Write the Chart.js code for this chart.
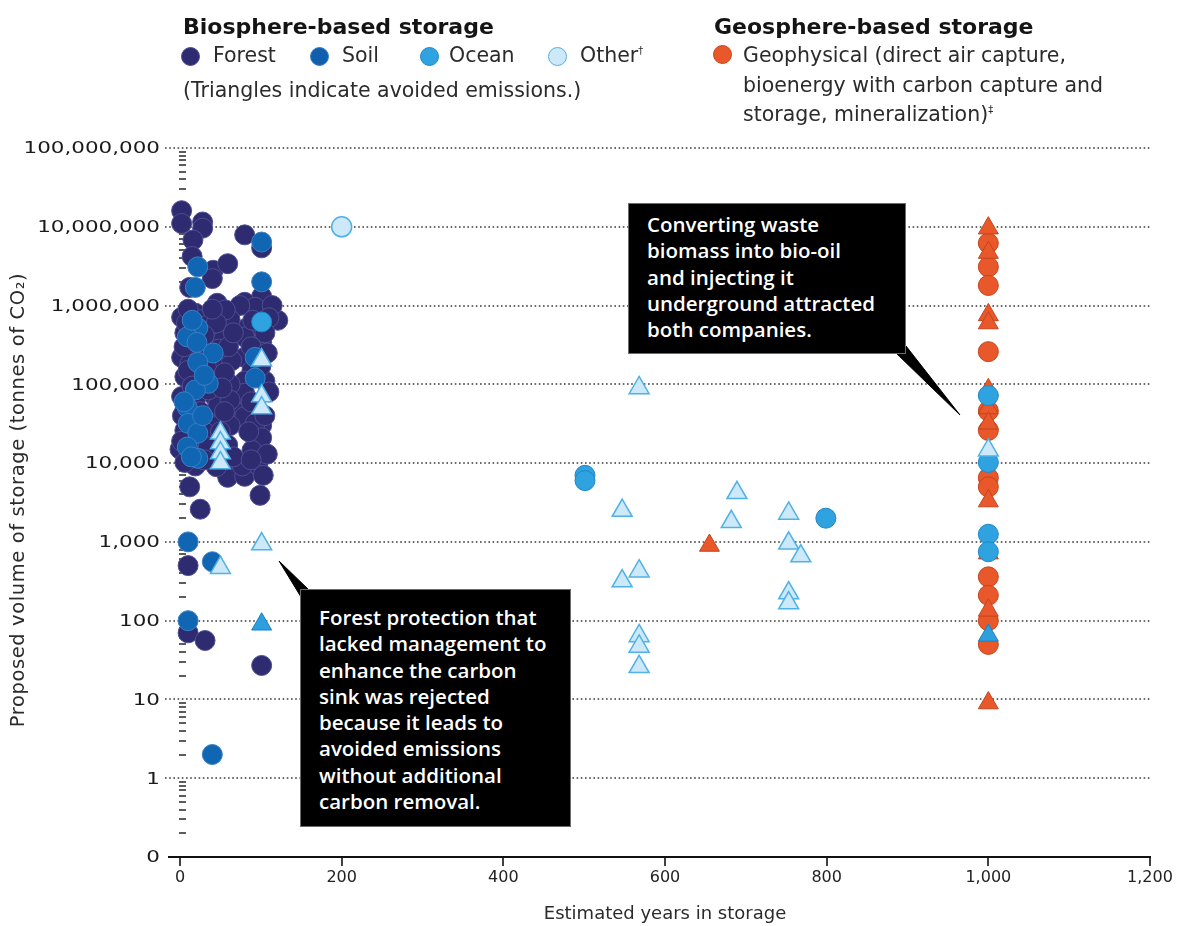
<!DOCTYPE html>
<html>
<head>
<meta charset="utf-8">
<script src="https://cdn.jsdelivr.net/npm/chart.js@4.4.1/dist/chart.umd.min.js"></script>
<style>
  html, body { margin: 0; padding: 0; background: #fff; }
  #wrap { position: relative; width: 1180px; height: 926px; overflow: hidden; background: #fff; }
  #plot { position: absolute; left: 0; top: 0; }
  .head { position: absolute; font-family: "DejaVu Sans", sans-serif; font-weight: bold; font-size: 22px; line-height: 28px; color: #141414; white-space: nowrap; }
  .lab { position: absolute; font-family: "DejaVu Sans", sans-serif; font-size: 20.5px; line-height: 29.5px; color: #2b2b2b; white-space: nowrap; }
  .lab sup { font-size: 10px; vertical-align: 8px; line-height: 0; }
  .swatch { position: absolute; width: 17px; height: 17px; border-radius: 50%; border: 1px solid; }
  .note { position: absolute; box-sizing: border-box; background: #000; color: #fff; border: 1px solid #6d6d6d;
          font-family: "Open Sans", sans-serif; font-weight: 600; font-size: 20.5px; line-height: 26.3px; padding-left: 18px; white-space: nowrap; }
  #wedges { position: absolute; left: 0; top: 0; pointer-events: none; }
</style>
</head>
<body>
<div id="wrap">
  <canvas id="plot" width="1180" height="926"></canvas>

  <div class="head" style="left:183px; top:13px;">Biosphere-based storage</div>
  <span class="swatch" style="left:181px; top:47px; background:#2e2b70; border-color:#4b4a8f;"></span>
  <div class="lab" style="left:213px; top:41px;">Forest</div>
  <span class="swatch" style="left:310px; top:47px; background:#0f5fae; border-color:#3b7cc2;"></span>
  <div class="lab" style="left:342px; top:41px;">Soil</div>
  <span class="swatch" style="left:420px; top:47px; background:#2fa3df; border-color:#1e86c8;"></span>
  <div class="lab" style="left:449px; top:41px;">Ocean</div>
  <span class="swatch" style="left:548px; top:47px; background:#cde8f8; border-color:#4fb2e6;"></span>
  <div class="lab" style="left:580px; top:41px;">Other<sup>†</sup></div>
  <div class="lab" style="left:183px; top:76px;">(Triangles indicate avoided emissions.)</div>

  <div class="head" style="left:714px; top:13px;">Geosphere-based storage</div>
  <span class="swatch" style="left:713px; top:45px; background:#e8582a; border-color:#c4441c;"></span>
  <div class="lab" style="left:743px; top:41px;">Geophysical (direct air capture,<br>bioenergy with carbon capture and<br>storage, mineralization)<sup>‡</sup></div>

  <svg id="wedges" width="1180" height="926">
    <polygon points="896,353 960,415 906,346 906,353" fill="#000" stroke="#000" stroke-width="1"/>
    <polygon points="279,561 301,597 301,590 309,590" fill="#000" stroke="#000" stroke-width="1"/>
  </svg>

  <div class="note" style="left:628px; top:203px; width:278px; height:151px; padding-top:7px;">Converting waste<br>biomass into bio-oil<br>and injecting it<br>underground attracted<br>both companies.</div>
  <div class="note" style="left:300px; top:589px; width:271px; height:238px; padding-top:14px;">Forest protection that<br>lacked management to<br>enhance the carbon<br>sink was rejected<br>because it leads to<br>avoided emissions<br>without additional<br>carbon removal.</div>
</div>

<script>
// Axis ticks
const xTicks = [0, 200, 400, 600, 800, 1000, 1200];
const xTickLabels = ['0', '200', '400', '600', '800', '1,000', '1,200'];
const yTicks = [0.1, 1, 10, 100, 1000, 1e4, 1e5, 1e6, 1e7, 1e8];
const yTickLabels = ['0', '1', '10', '100', '1,000', '10,000', '100,000', '1,000,000', '10,000,000', '100,000,000'];

// Projects: [estimated years in storage, proposed tonnes of CO2]
const forestStores = [
  [2,16e6],[2,11e6],[28,11.5e6],[28,9.6e6],[16,6.8e6],[15,4.2e6],[41,2.8e6],[59,3.4e6],[40,2.2e6],[12,1.7e6],
  [46,1.07e6],[80,7.9e6],[101,5.4e6],[101,1.3e6],[80,1.1e6],[93,950e3],[121,650e3],
  [2,710e3],[19,800e3],[35,710e3],[52,490e3],[6,450e3],[53,360e3],[2,220e3],[47,190e3],[6,125e3],[43,125e3],
  [2,70e3],[43,70e3],[6,47e3],[46,47e3],[35,32e3],[6,26e3],[0,15e3],[27,19.5e3],[56,15e3],[19,9.2e3],[56,8e3],[72,8e3],
  [47,54e3],[77,51e3],[15,21e3],[43,29e3],[59,6.6e3],[80,6.8e3],[12,5e3],[25,2.6e3],[99,3.9e3],[93,21e3],[99,16e3],
  [95,10.3e3],[101,30e3],[77,43e3],[10,500],[10,70],[31,56],[101,27],
  [84,530e3],[80,400e3],[101,340e3],[80,220e3],[89,150e3],[80,110e3],[105,110e3],[80,77e3],[96,47e3],[80,39e3],
  [93,32e3],[101,21e3],[89,14.5e3],[96,9.5e3],[77,9.2e3],[74,1.0e6],[114,1.0e6],
  [25,660e3],[62,660e3],[19,320e3],[37,270e3],[12,180e3],[25,110e3],[62,100e3],[19,63e3],[62,63e3],[2,19e3],
  [62,30e3],[59,17e3],[40,12.5e3],[6,10.2e3],[64,200e3],[56,880e3],
  [8,600e3],[30,550e3],[45,600e3],[14,380e3],[30,420e3],[48,280e3],[5,300e3],[28,230e3],[60,300e3],[10,150e3],
  [33,160e3],[55,140e3],[15,95e3],[35,85e3],[52,90e3],[3,40e3],[25,45e3],[55,45e3],[12,33e3],[30,25e3],
  [50,25e3],[15,14e3],[35,16e3],[66,12e3],[45,9e3],[30,11e3],[66,450e3],[10,900e3],[40,900e3],
  [110,700e3],[90,650e3],[105,450e3],[88,300e3],[108,250e3],[100,170e3],[110,80e3],[88,60e3],[105,40e3],
  [85,25e3],[108,13e3],[88,11e3],[103,7e3]
];
const soilStores = [
  [22,3.1e6],[19,1.7e6],[101,6.4e6],[101,2.0e6],[22,520e3],[9,400e3],[21,340e3],[41,250e3],[22,190e3],[35,103e3],
  [19,85e3],[9,51e3],[10,32e3],[22,24e3],[9,16e3],[22,11.5e3],[93,220e3],[93,120e3],[10,1000],[10,100],[40,560],[40,2],
  [15,650e3],[30,130e3],[5,60e3],[28,40e3],[14,12e3]
];
const oceanStores = [[101,620e3],[501,7e3],[501,6e3],[799,2e3],[1000,72e3],[1000,10.2e3],[1000,1.25e3],[1000,750]];
const oceanAvoided = [[101,90],[1000,65]];
const otherStores = [[200,10e6]];
const otherAvoided = [
  [50,24e3],[50,18e3],[50,13.4e3],[50,10e3],[101,203e3],[101,71e3],[101,50e3],[101,940],[50,470],
  [568,90e3],[547,2.5e3],[689,4.2e3],[682,1.8e3],[753,2.3e3],[753,960],[768,660],[568,425],[547,318],
  [753,224],[753,167],[568,64],[568,47],[568,26],[1000,14.6e3]
];
const geoStores = [
  [1000,6.2e6],[1000,3.1e6],[1000,1.8e6],[1000,260e3],[1000,46e3],[1000,26e3],[1000,6.5e3],[1000,5e3],
  [1000,360],[1000,210],[1000,100],[1000,50]
];
const geoAvoided = [
  [1000,9.6e6],[1000,4.7e6],[1000,760e3],[1000,600e3],[1000,85e3],[1000,50e3],[1000,32e3],[1000,3.3e3],
  [1000,720],[1000,135],[1000,9],[655,900]
];

const toPoints = rows => rows.map(([x, y]) => ({ x, y }));

function series(label, rows, shape, fill, edge, width) {
  const r = shape === 'triangle' ? 11.5 : 10;
  return {
    label, data: toPoints(rows), pointStyle: shape,
    backgroundColor: fill, borderColor: edge, borderWidth: width || 1,
    pointRadius: r, pointHoverRadius: r, clip: false
  };
}

// First dataset is painted last (on top)
const datasets = [
  series('Other, avoided', otherAvoided, 'triangle', '#cde8f8', '#4fb2e6', 1.5),
  series('Other', otherStores, 'circle', '#cde8f8', '#4fb2e6', 1.5),
  series('Ocean, avoided', oceanAvoided, 'triangle', '#2c9fdc', '#1a80c4'),
  series('Ocean', oceanStores, 'circle', '#2fa3df', '#1e86c8'),
  series('Soil', soilStores, 'circle', '#1166b4', '#3b7fc4'),
  series('Forest', forestStores, 'circle', '#2e2b70', '#4f4e93'),
  series('Geophysical, avoided', geoAvoided, 'triangle', '#e8582a', '#c4441c'),
  series('Geophysical', geoStores, 'circle', '#e8582a', '#c4441c')
];

const frame = {
  id: 'frame',
  beforeDatasetsDraw(chart) {
    const { ctx, scales: { x, y } } = chart;
    const seg = (x1, y1, x2, y2) => { ctx.beginPath(); ctx.moveTo(x1, y1); ctx.lineTo(x2, y2); ctx.stroke(); };
    ctx.save();

    // dotted lines at each power of ten
    ctx.strokeStyle = '#3a3a3a';
    ctx.lineWidth = 1.6;
    ctx.setLineDash([1.6, 2.6]);
    yTicks.slice(1).forEach(v => {
      const py = Math.round(y.getPixelForValue(v));
      seg(165, py, x.right, py);
    });

    // minor log ticks
    ctx.setLineDash([]);
    ctx.strokeStyle = '#333';
    ctx.lineWidth = 1.6;
    for (let e = -1; e < 8; e++) {
      for (let k = 2; k <= 9; k++) {
        const py = Math.round(y.getPixelForValue(k * Math.pow(10, e)));
        seg(179, py, 186, py);
      }
    }

    // x axis line and ticks
    ctx.strokeStyle = '#111';
    ctx.lineWidth = 2.2;
    seg(168, y.bottom, x.right + 1, y.bottom);
    ctx.lineWidth = 1.6;
    xTicks.forEach(v => {
      const px = Math.round(x.getPixelForValue(v));
      seg(px, y.bottom, px, y.bottom + 9);
    });

    // tick labels
    ctx.fillStyle = '#222';
    ctx.font = '16px "DejaVu Sans"';
    ctx.textAlign = 'center';
    ctx.textBaseline = 'middle';
    xTicks.forEach((v, i) => ctx.fillText(xTickLabels[i], x.getPixelForValue(v), y.bottom + 21));

    ctx.fillStyle = '#1a1a1a';
    ctx.font = '16.5px "DejaVu Sans"';
    ctx.textAlign = 'right';
    yTicks.forEach((v, i) => {
      ctx.save();
      ctx.translate(160, y.getPixelForValue(v) + 1);
      ctx.scale(1.3, 1);
      ctx.fillText(yTickLabels[i], 0, 0);
      ctx.restore();
    });

    // axis titles
    ctx.fillStyle = '#2b2b2b';
    ctx.font = '18px "DejaVu Sans"';
    ctx.textAlign = 'center';
    ctx.fillText('Estimated years in storage', (x.left + x.right) / 2, 914);
    ctx.save();
    ctx.translate(19, 500);
    ctx.rotate(-Math.PI / 2);
    ctx.font = '19.5px "DejaVu Sans"';
    ctx.letterSpacing = '0.6px';
    ctx.fillText('Proposed volume of storage (tonnes of CO\u2082)', 0, 0);
    ctx.restore();

    ctx.restore();
  }
};

new Chart(document.getElementById('plot'), {
  type: 'scatter',
  data: { datasets },
  options: {
    responsive: false,
    animation: false,
    devicePixelRatio: 1,
    layout: { padding: { left: 0, right: 30, top: 148, bottom: 0 } },
    plugins: { legend: { display: false }, tooltip: { enabled: false } },
    scales: {
      x: {
        type: 'linear', min: 0, max: 1200,
        afterFit(s) { s.height = 69; },
        grid: { display: false }, border: { display: false }, ticks: { display: false }
      },
      y: {
        type: 'logarithmic', min: 0.1, max: 1e8,
        afterFit(s) { s.width = 180; },
        grid: { display: false }, border: { display: false }, ticks: { display: false }
      }
    }
  },
  plugins: [frame]
});
</script>
</body>
</html>
